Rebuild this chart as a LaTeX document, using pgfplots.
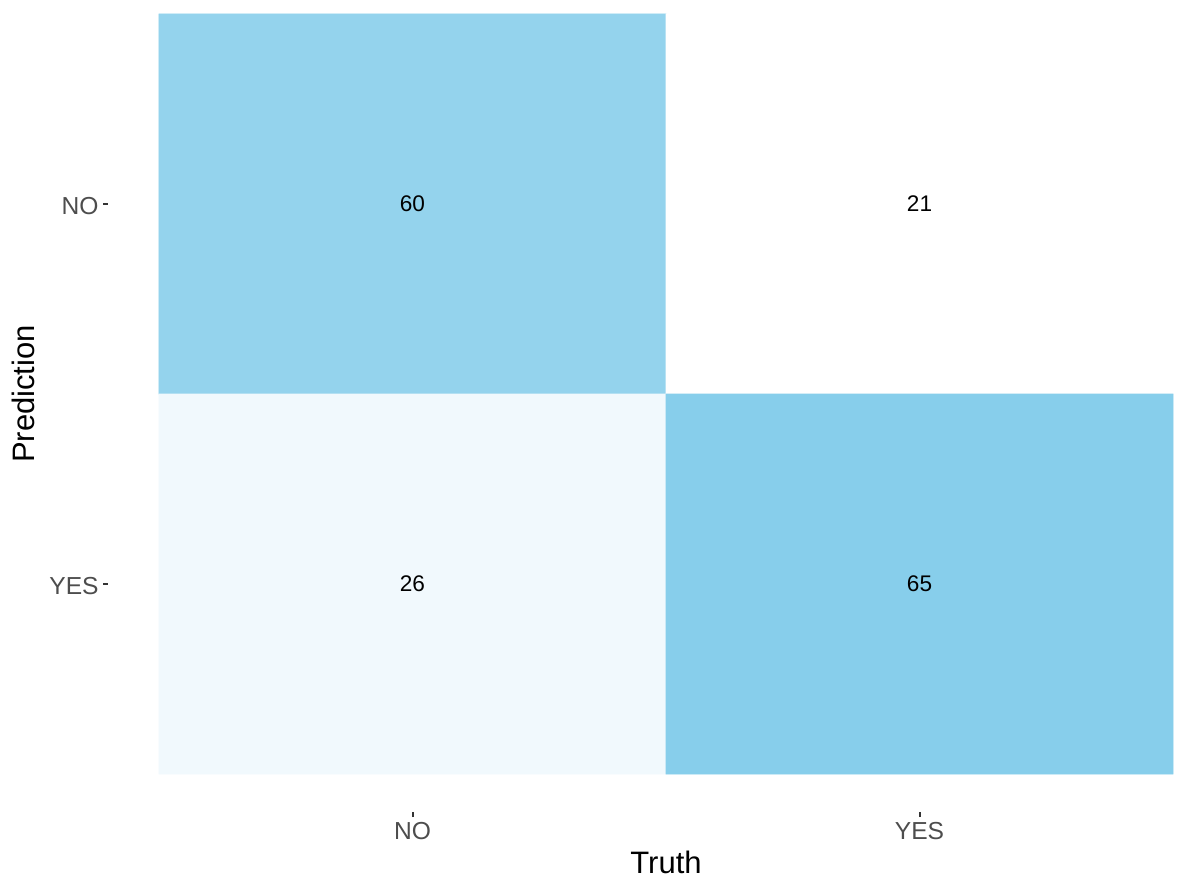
\documentclass[border=0pt]{standalone}
\usepackage{pgfplots}
\pgfplotsset{compat=1.18}
\usepackage{fontspec}
\setmainfont{Liberation Sans}
\definecolor{ticklab}{RGB}{77,77,77}
\definecolor{tickcol}{RGB}{51,51,51}
\begin{document}
\begin{tikzpicture}
\path[use as bounding box] (-79.5pt,-54pt) rectangle (512pt,387pt);
\begin{axis}[
  at={(0,0)}, anchor=south west,
  scale only axis, width=507pt, height=380pt,
  xmin=-0.5, xmax=1.5, ymin=-0.5, ymax=1.5, y dir=reverse,
  axis line style={draw=none},
  clip=false,
  xtick={0,1}, ytick={0,1},
  xticklabels={NO,YES}, yticklabels={NO,YES},
  tick align=inside, major tick length=2.5pt,
  xtick style={draw=tickcol, line width=1pt, yshift=-21.5pt},
  ytick style={draw=tickcol, line width=1pt, xshift=-27.85pt},
  xticklabel style={anchor=north, inner sep=0pt, yshift=-24pt, text=ticklab, font=\fontsize{12.3}{14}\selectfont},
  yticklabel style={anchor=east, inner sep=0pt, xshift=-30pt, yshift=-1pt, text=ticklab, font=\fontsize{12.3}{14}\selectfont},
  xlabel={Truth}, ylabel={Prediction},
  xlabel style={at={(axis description cs:0.5,0)}, anchor=north, inner sep=0pt, yshift=-38.5pt, font=\fontsize{15.5}{18}\selectfont},
  ylabel style={at={(axis description cs:0,0.5)}, anchor=north, inner sep=0pt, yshift=73.5pt, font=\fontsize{15.5}{18}\selectfont},
  colormap={sky}{rgb255=(255,255,255) rgb255=(135,206,235)},
  point meta min=21, point meta max=65,
]
\addplot[matrix plot*, mesh/cols=2, mesh/rows=2, point meta=explicit] table[meta=c] {
x y c
0 0 60
1 0 21
0 1 26
1 1 65
};
\addplot[only marks, mark=*, mark size=0pt, mark options={draw opacity=0, fill opacity=0},
  point meta=explicit symbolic,
  nodes near coords, nodes near coords align=center,
  every node near coord/.append style={font=\fontsize{11.3}{13}\selectfont, text=black, inner sep=0pt, text opacity=1}]
  table[meta=c] {
x y c
0 0 60
1 0 21
0 1 26
1 1 65
};
\end{axis}
\end{tikzpicture}
\end{document}
